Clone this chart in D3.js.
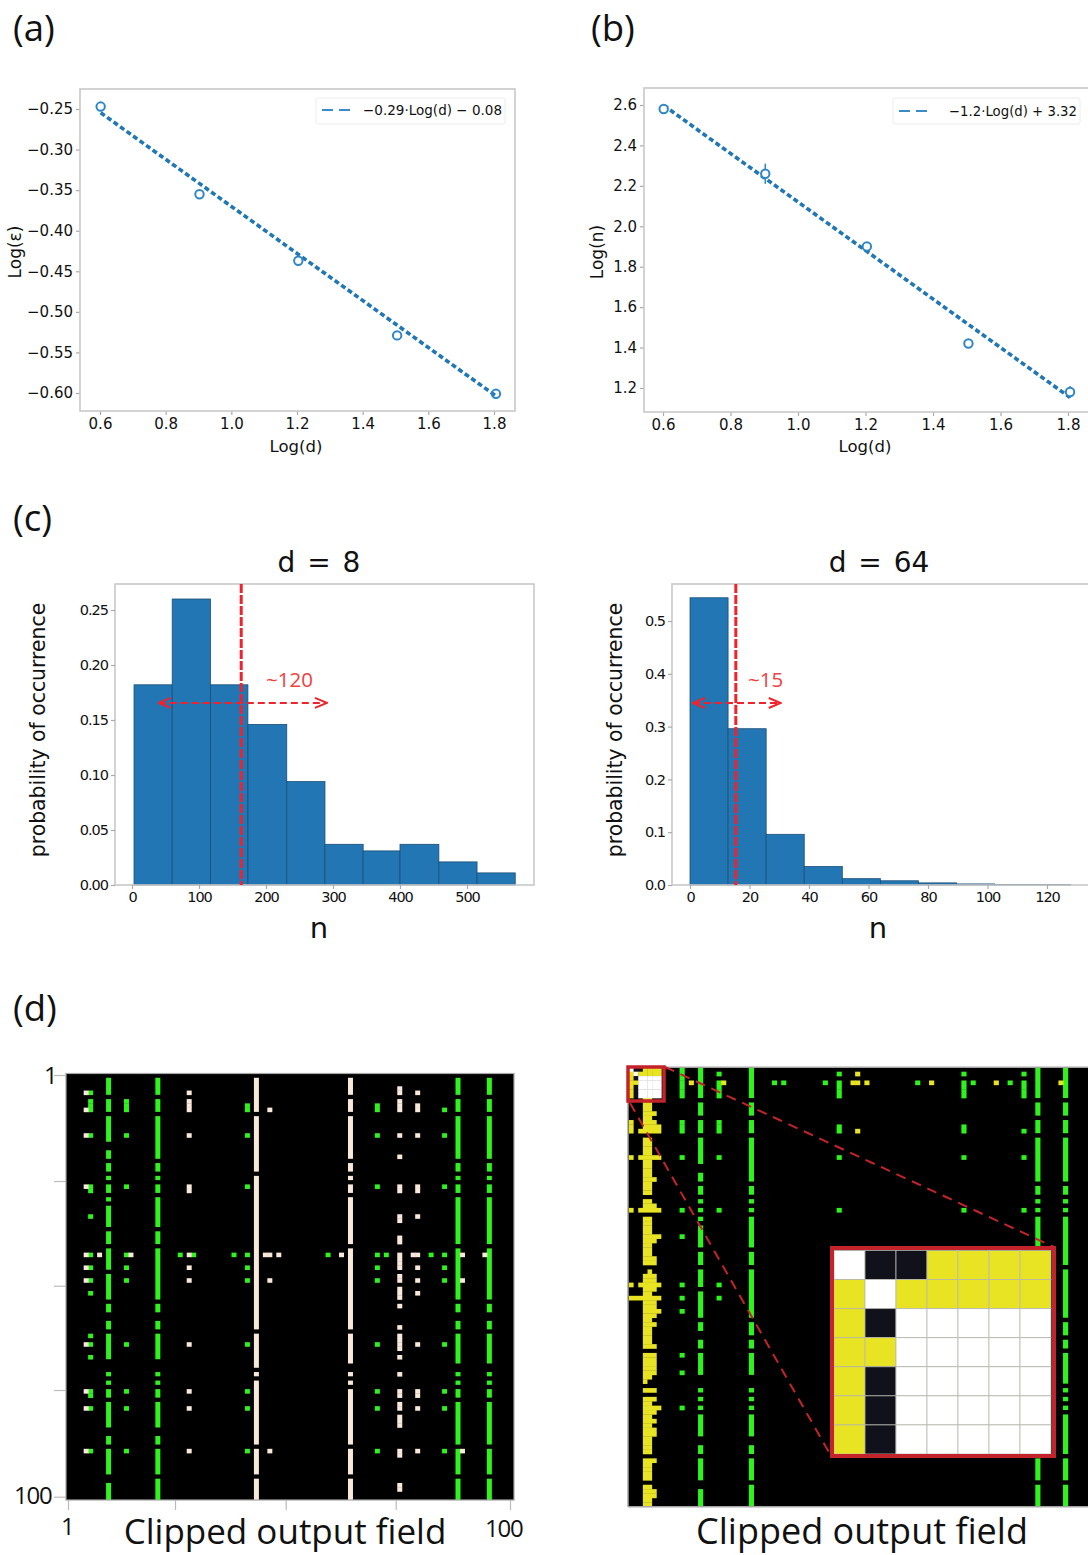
<!DOCTYPE html>
<html>
<head>
<meta charset="utf-8">
<script src="https://cdn.jsdelivr.net/npm/d3@7"></script>
<style>
  html, body { margin: 0; padding: 0; background: #fff; }
  svg { display: block; }
  text { font-family: "DejaVu Sans", sans-serif; fill: #111; }
  .panel-label, .field-label, .note { font-family: "Open Sans", sans-serif; }
</style>
</head>
<body>
<svg id="chart" width="1088" height="1555"></svg>
<script>
// Panels (a), (b): log-log fits
const logD = [0.602, 0.903, 1.204, 1.505, 1.806];
const logEps = [-0.247, -0.355, -0.437, -0.529, -0.601];
const logN = [2.58, 2.26, 1.90, 1.42, 1.18];
const logNErr = [0.015, 0.05, 0.02, 0.01, 0.03];
const fitD = [0.602, 1.806];
const fitEps = [-0.2546, -0.6037];
const fitN = [2.598, 1.153];
const ticksLogD = [0.6, 0.8, 1.0, 1.2, 1.4, 1.6, 1.8];
const ticksEps = [-0.25, -0.30, -0.35, -0.40, -0.45, -0.50, -0.55, -0.60];
const ticksN = [1.2, 1.4, 1.6, 1.8, 2.0, 2.2, 2.4, 2.6];

// Panel (c): histograms
const edges8 = [3, 60, 117, 173, 231, 288, 345, 400, 458, 515, 572];
const probs8 = [0.182, 0.26, 0.182, 0.146, 0.094, 0.037, 0.031, 0.037, 0.021, 0.011];
const edges64 = [0, 12.8, 25.6, 38.4, 51.2, 64, 76.8, 89.6, 102.4, 115.2, 128];
const probs64 = [0.544, 0.296, 0.096, 0.035, 0.012, 0.008, 0.004, 0.002, 0.001, 0.001];
const ticksN8 = [0, 100, 200, 300, 400, 500];
const ticksP8 = [0, 0.05, 0.10, 0.15, 0.20, 0.25];
const ticksN64 = [0, 20, 40, 60, 80, 100, 120];
const ticksP64 = [0, 0.1, 0.2, 0.3, 0.4, 0.5];

// Panel (d), left map: vertical stripes [col, runs of [firstRow, endRow)]
const runs9 = [[1,5],[6,9],[10,16],[18,20],[21,23],[24,25],[26,28],[29,30],[31,36],[37,40],[41,46],[47,53],[54,56],[58,60],[61,67],[70,71],[72,73],[74,76],[77,83],[85,87],[88,94],[96,100]];
const runs20 = [[1,5],[6,9],[10,20],[21,23],[24,25],[26,28],[29,36],[37,40],[41,53],[54,56],[58,60],[61,67],[70,71],[72,73],[74,76],[77,83],[85,87],[88,94],[95,100]];
const runs42 = [[1,9],[10,23],[24,60],[61,69],[70,71],[72,87],[88,94],[95,100]];
const runs63 = [[1,5],[6,9],[10,20],[21,23],[24,25],[26,28],[29,40],[41,60],[61,68],[70,71],[72,73],[74,87],[88,94],[95,100]];
const runs87 = [[1,5],[6,9],[10,20],[21,23],[24,25],[26,28],[29,40],[41,53],[54,56],[58,60],[61,68],[70,71],[72,73],[74,76],[77,87],[88,94],[95,100]];
const leftGreenStripes = [[9, runs9], [20, runs20], [87, runs87], [94, runs87]];
const leftBeigeStripes = [[42, runs42], [63, runs63]];

// single cells [col, rows]
const leftGreenCells = [
  [5, [4,6,7,8,14,26,27,33,42,45,48,51,61,63,66,74,75,78,88]],
  [13, [6,7,8,14,26,42,45,48,63,74,78,88]],
  [25, [42]], [28, [42]], [37, [42]],
  [40, [7,8,14,26,42,45,48,63,74,78,88]],
  [58, [42]],
  [69, [7,8,14,26,42,45,48,63,74,78,88]],
  [71, [42]], [81, [42]],
  [84, [8,14,26,42,45,48,63,74,78,88]]
];
const leftBeigeCells = [
  [4, [4,8,14,26,42,45,48,63,74,78,88]],
  [7, [42]], [14, [42]],
  [27, [4,6,7,8,14,26,27,42,45,48,63,74,78,88]],
  [44, [42]], [45, [8,42,48,88]], [47, [42]], [61, [42]],
  [74, [3,4,6,7,8,14,19,26,27,33,34,38,39,42,43,44,45,47,48,50,51,52,54,59,61,62,63,64,66,70,74,75,77,78,80,81,82,88,89,96,97]],
  [77, [42]],
  [78, [4,7,8,14,26,27,33,42,45,48,51,63,74,75,78,88]],
  [88, [42,48,88]], [93, [42]]
];

// Panel (d), right map
const runs15 = [[0,7],[8,11],[12,15],[16,22],[24,26],[27,29],[30,31],[32,33],[34,35],[36,41],[42,45],[46,50],[51,57],[58,60],[62,64],[65,70],[73,74],[75,76],[77,78],[79,84],[86,88],[89,94],[96,100]];
const runs26 = [[0,7],[8,11],[12,15],[16,26],[27,29],[30,31],[32,33],[34,41],[42,45],[46,57],[58,61],[62,64],[65,70],[73,74],[75,76],[77,78],[79,84],[86,88],[89,94],[95,100]];
const runs88 = [[0,7],[8,11],[12,15],[16,26],[27,29],[30,31],[32,33],[34,41],[89,94],[95,100]];
const runs94 = [[0,7],[8,11],[12,15],[16,26],[27,29],[30,31],[32,33],[34,45],[46,57],[58,61],[62,64],[65,72],[73,74],[75,76],[77,78],[79,88],[89,94],[95,100]];
const rightGreenStripes = [[15, runs15], [26, runs26], [88, runs88], [94, runs94]];
const rightGreenCells = [
  [11, [0,1,2,3,4,5,6,12,13,14,20,32,38,49,52,55,65,69,77]],
  [19, [1,3,4,5,6,12,13,14,20,32,49,52]],
  [31, [3]], [33, [3]], [42, [3]],
  [45, [1,3,4,5,6,13,14,20,32]],
  [62, [3]],
  [72, [1,3,4,5,6,13,14,20,32]],
  [74, [3]], [82, [3]],
  [85, [1,3,4,5,6,14,20,32]]
];
const rightYellowCells = [
  [13, [3]], [20, [3]], [48, [3]], [49, [1,3,14]], [51, [3]], [65, [3]], [79, [3]], [93, [3]]
];
// yellow band along the left edge [row, firstCol, lastCol]
const rightBand = [
  [7,3,4],[8,3,4],[9,3,4],[10,3,5],[11,3,4],[12,0,0],[12,3,5],[13,0,0],[13,3,6],[14,0,0],[14,2,6],
  [16,3,4],[17,3,4],[18,3,4],[19,3,4],[20,0,0],[20,2,6],[21,3,4],[22,3,4],[23,3,4],[24,3,4],[25,3,5],
  [26,3,4],[27,3,4],[28,3,4],[30,3,4],[31,3,5],[32,0,0],[32,2,6],[34,3,4],[35,3,4],[36,3,4],[37,3,4],
  [38,3,6],[39,3,5],[40,3,4],[41,3,4],[42,3,4],[43,3,5],[44,3,5],[46,4,4],[47,3,5],[48,3,5],[49,0,0],
  [49,2,6],[50,3,5],[51,3,4],[52,0,6],[53,3,5],[54,3,5],[55,3,6],[56,3,5],[57,3,4],[58,3,5],[59,3,4],
  [60,3,4],[61,3,4],[62,3,4],[63,3,5],[65,3,5],[66,3,5],[67,3,5],[68,3,5],[69,3,5],[70,3,4],[71,3,3],
  [73,3,5],[75,3,5],[76,3,4],[77,3,6],[78,3,5],[79,3,4],[80,3,5],[81,3,4],[82,3,5],[83,3,5],[84,3,4],
  [85,3,4],[86,3,4],[87,3,4],[89,3,5],[90,3,4],[91,3,4],[92,3,4],[93,3,4],[95,3,4],[96,3,5],[97,3,5],
  [98,3,4],[99,3,4]
];
// top-left 7x7 block: w white, k black, y yellow
const insetRows = ["wkkyyyy", "ywyyyyy", "ykwwwww", "yywwwww", "ykwwwww", "ykwwwww", "ykwwwww"];
const fieldTicks = [0, 25, 50, 75, 100];

const BLUE = "#1f77b4", RED = "#f0232d", DARK_RED = "#c4232c";
const GREEN = "#2df51c", BEIGE = "#f9e9da", YELLOW = "#e8e423", INK = "#10111b";
const stateColor = { w: "#fff", k: INK, y: YELLOW };

// cells look a bit wider than their pitch in the source, and rows must not show seams
const CELL_W = 0.5, CELL_H = 0.3;

const svg = d3.select("#chart");

// Arrow heads for the width annotation
svg.append("defs").append("marker")
    .attr("id", "arrow")
    .attr("viewBox", "0 0 14 12")
    .attr("refX", 13).attr("refY", 6)
    .attr("markerWidth", 14).attr("markerHeight", 12)
    .attr("markerUnits", "userSpaceOnUse")
    .attr("orient", "auto-start-reverse")
    .append("path")
    .attr("d", "M1,1 L13,6 L1,11")
    .attr("fill", "none")
    .attr("stroke", RED)
    .attr("stroke-width", 2);

function panelLabel(txt, x, y) {
    svg.append("text").attr("class", "panel-label")
        .attr("x", x).attr("y", y)
        .attr("font-size", 36.5)
        .text(txt);
}

function frame(x0, y0, x1, y1, stroke = "#c8c8c8", w = 1.6) {
    svg.append("rect")
        .attr("x", x0).attr("y", y0)
        .attr("width", x1 - x0).attr("height", y1 - y0)
        .attr("fill", "none")
        .attr("stroke", stroke)
        .attr("stroke-width", w);
}

function axes(xScale, yScale, box, xTicks, yTicks, xFmt, yFmt, size, spacing) {
    const xAxis = svg.append("g")
        .attr("transform", `translate(0,${box.bottom})`)
        .call(d3.axisBottom(xScale).tickValues(xTicks).tickFormat(xFmt).tickSize(4).tickPadding(3));
    const yAxis = svg.append("g")
        .attr("transform", `translate(${box.left},0)`)
        .call(d3.axisLeft(yScale).tickValues(yTicks).tickFormat(yFmt).tickSize(4).tickPadding(3));
    [xAxis, yAxis].forEach(a => {
        a.select(".domain").remove();
        a.selectAll("line").attr("stroke", "#aaa").attr("stroke-width", 1.2);
        a.selectAll("text")
            .attr("font-family", "'DejaVu Sans', sans-serif")
            .attr("font-size", size)
            .attr("letter-spacing", spacing)
            .attr("fill", "#111");
    });
}

function fitPanel(cfg) {
    const x = d3.scaleLinear().domain([0.6, 1.8]).range(cfg.xRange);
    const y = d3.scaleLinear().domain(cfg.yDomain).range(cfg.yRange);

    axes(x, y, cfg.box, ticksLogD, cfg.yTicks, d3.format(".1f"), d3.format(cfg.yFormat), 15, 0);

    const line = d3.line().x(d => x(d[0])).y(d => y(d[1]));
    svg.append("path")
        .datum(d3.zip(fitD, cfg.fit))
        .attr("d", line)
        .attr("fill", "none")
        .attr("stroke", BLUE)
        .attr("stroke-width", 3.6)
        .attr("stroke-dasharray", "5,3");

    if (cfg.err) {
        svg.selectAll(null).data(d3.zip(logD, cfg.values, cfg.err)).enter().append("line")
            .attr("x1", d => x(d[0])).attr("x2", d => x(d[0]))
            .attr("y1", d => y(d[1] - d[2])).attr("y2", d => y(d[1] + d[2]))
            .attr("stroke", "#2f86c4")
            .attr("stroke-width", 1.5);
    }

    svg.selectAll(null).data(d3.zip(logD, cfg.values)).enter().append("circle")
        .attr("cx", d => x(d[0])).attr("cy", d => y(d[1]))
        .attr("r", 4.2)
        .attr("fill", cfg.err ? "#fff" : "none")
        .attr("stroke", "#2f86c4")
        .attr("stroke-width", 2);

    frame(cfg.box.left, cfg.box.top, cfg.box.right, cfg.box.bottom);

    // Legend
    const lg = cfg.legend;
    svg.append("rect")
        .attr("x", lg.x0).attr("y", lg.y0)
        .attr("width", lg.x1 - lg.x0).attr("height", lg.y1 - lg.y0)
        .attr("rx", 2)
        .attr("fill", "#fff")
        .attr("stroke", "#ececec");
    svg.append("line")
        .attr("x1", lg.lineX0).attr("x2", lg.lineX1)
        .attr("y1", lg.lineY).attr("y2", lg.lineY)
        .attr("stroke", "#3a8cc8")
        .attr("stroke-width", 2)
        .attr("stroke-dasharray", "11,6");
    svg.append("text")
        .attr("x", lg.x1 - 3).attr("y", lg.lineY + 5)
        .attr("text-anchor", "end")
        .attr("font-size", 14)
        .attr("textLength", lg.textLen)
        .attr("lengthAdjust", "spacingAndGlyphs")
        .text(lg.label);

    svg.append("text")
        .attr("x", cfg.xLabelX).attr("y", 452)
        .attr("text-anchor", "middle")
        .attr("font-size", 16.5)
        .text("Log(d)");
    svg.append("text")
        .attr("transform", `translate(${cfg.yLabelX},252) rotate(-90)`)
        .attr("text-anchor", "middle")
        .attr("font-size", 17)
        .text(cfg.yLabel);
}

function histPanel(cfg) {
    const x = d3.scaleLinear().domain(cfg.xDomain).range(cfg.xRange);
    const y = d3.scaleLinear().domain(cfg.yDomain).range(cfg.yRange);

    svg.selectAll(null).data(cfg.probs).enter().append("rect")
        .attr("x", (d, i) => x(cfg.edges[i]))
        .attr("width", (d, i) => x(cfg.edges[i + 1]) - x(cfg.edges[i]))
        .attr("y", d => y(d))
        .attr("height", d => y(0) - y(d))
        .attr("fill", "#2276b3")
        .attr("stroke", "#1c4f76")
        .attr("stroke-width", 0.8);

    frame(cfg.box.left, cfg.box.top, cfg.box.right, cfg.box.bottom);
    axes(x, y, cfg.box, cfg.xTicks, cfg.yTicks, d3.format("d"), d3.format(cfg.yFormat), 14.5, -1);

    // median line
    svg.append("line")
        .attr("x1", x(cfg.median)).attr("x2", x(cfg.median))
        .attr("y1", cfg.box.top).attr("y2", cfg.box.bottom)
        .attr("stroke", RED)
        .attr("stroke-width", 3)
        .attr("stroke-dasharray", "9,2");

    svg.append("line")
        .attr("x1", x(cfg.arrow[0])).attr("x2", x(cfg.arrow[1]))
        .attr("y1", y(cfg.arrowAt)).attr("y2", y(cfg.arrowAt))
        .attr("stroke", RED)
        .attr("stroke-width", 2)
        .attr("stroke-dasharray", "7,4")
        .attr("marker-start", "url(#arrow)")
        .attr("marker-end", "url(#arrow)");

    svg.append("text").attr("class", "note")
        .attr("x", cfg.noteX).attr("y", 687)
        .attr("font-size", 20.5)
        .style("fill", "#f0403f")
        .text(cfg.note);

    svg.append("text")
        .attr("x", cfg.titleX).attr("y", 572)
        .attr("text-anchor", "middle")
        .attr("font-size", 28)
        .style("word-spacing", "3px")
        .text(cfg.title);
    svg.append("text")
        .attr("x", cfg.nX).attr("y", 938)
        .attr("text-anchor", "middle")
        .attr("font-size", 29)
        .text("n");
    svg.append("text")
        .attr("transform", `translate(${cfg.yLabelX},730) rotate(-90)`)
        .attr("text-anchor", "middle")
        .attr("font-size", 20.4)
        .text("probability of occurrence");
}

function drawStripes(g, x, y, stripes, color) {
    stripes.forEach(([col, runs]) => {
        g.selectAll(null).data(runs).enter().append("rect")
            .attr("x", x(col) - CELL_W / 2).attr("width", x(col + 1) - x(col) + CELL_W)
            .attr("y", d => y(d[0])).attr("height", d => y(d[1]) - y(d[0]))
            .attr("fill", color);
    });
}

function drawCells(g, x, y, cells, color) {
    cells.forEach(([col, rows]) => {
        g.selectAll(null).data(rows).enter().append("rect")
            .attr("x", x(col) - CELL_W / 2).attr("width", x(col + 1) - x(col) + CELL_W)
            .attr("y", d => y(d)).attr("height", d => y(d + 1) - y(d) + CELL_H)
            .attr("fill", color);
    });
}

// (a)
panelLabel("(a)", 13, 41);
fitPanel({
    box: { left: 80, top: 89, right: 515, bottom: 411 },
    xRange: [100, 494], yDomain: [-0.25, -0.60], yRange: [109, 393],
    yTicks: ticksEps, yFormat: ".2f", values: logEps, fit: fitEps,
    legend: { x0: 316, x1: 505, y0: 98, y1: 124, lineX0: 322, lineX1: 350, lineY: 110, textLen: 139, label: "−0.29·Log(d) − 0.08" },
    xLabelX: 296, yLabelX: 21, yLabel: "Log(ε)"
});

// (b)
panelLabel("(b)", 591, 41);
fitPanel({
    box: { left: 644, top: 88, right: 1094, bottom: 412 },
    xRange: [663, 1068], yDomain: [2.6, 1.2], yRange: [105, 388],
    yTicks: ticksN, yFormat: ".1f", values: logN, fit: fitN, err: logNErr,
    legend: { x0: 893, x1: 1080, y0: 98, y1: 124, lineX0: 899, lineX1: 927, lineY: 111, textLen: 128, label: "−1.2·Log(d) + 3.32" },
    xLabelX: 865, yLabelX: 603, yLabel: "Log(n)"
});

// (c)
panelLabel("(c)", 13, 531);
histPanel({
    box: { left: 115, top: 584, right: 534, bottom: 885 },
    xDomain: [0, 500], xRange: [132, 467], yDomain: [0, 0.25], yRange: [885, 610],
    edges: edges8, probs: probs8, xTicks: ticksN8, yTicks: ticksP8, yFormat: ".2f",
    median: 163, arrow: [40, 291], arrowAt: 0.1655, note: "~120", noteX: 266,
    title: "d = 8", titleX: 319, nX: 319, yLabelX: 45
});
histPanel({
    box: { left: 672, top: 584, right: 1094, bottom: 885 },
    xDomain: [0, 120], xRange: [690, 1047], yDomain: [0, 0.5], yRange: [885, 621],
    edges: edges64, probs: probs64, xTicks: ticksN64, yTicks: ticksP64, yFormat: ".1f",
    median: 15.4, arrow: [1, 30.5], arrowAt: 0.3447, note: "~15", noteX: 748,
    title: "d = 64", titleX: 879, nX: 878, yLabelX: 622
});

// (d)
panelLabel("(d)", 13, 1021);

// left map
const leftX = d3.scaleLinear().domain([0, 100]).range([66, 514]);
const leftY = d3.scaleLinear().domain([0, 100]).range([1073.5, 1500]);
const leftTickX = d3.scaleLinear().domain(fieldTicks).range([68, 175, 285.7, 395.7, 510]);
const leftTickY = d3.scaleLinear().domain(fieldTicks).range([1075, 1181, 1285.7, 1390, 1496.7]);

svg.append("rect")
    .attr("x", leftX(0)).attr("y", leftY(0))
    .attr("width", leftX(100) - leftX(0)).attr("height", leftY(100) - leftY(0))
    .attr("fill", "#000");
const leftG = svg.append("g");
drawStripes(leftG, leftX, leftY, leftGreenStripes, GREEN);
drawStripes(leftG, leftX, leftY, leftBeigeStripes, BEIGE);
drawCells(leftG, leftX, leftY, leftGreenCells, GREEN);
drawCells(leftG, leftX, leftY, leftBeigeCells, BEIGE);
frame(leftX(0), leftY(0), leftX(100), leftY(100), "#a5a5a5", 1.2);

svg.append("g")
    .attr("transform", `translate(0,${leftY(100)})`)
    .call(d3.axisBottom(leftTickX).tickValues(fieldTicks).tickFormat("").tickSize(10))
    .call(g => g.select(".domain").remove())
    .selectAll("line").attr("stroke", "#bbb").attr("stroke-width", 1.2);
svg.append("g")
    .attr("transform", `translate(${leftX(0)},0)`)
    .call(d3.axisLeft(leftTickY).tickValues(fieldTicks).tickFormat("").tickSize(12))
    .call(g => g.select(".domain").remove())
    .selectAll("line").attr("stroke", "#bbb").attr("stroke-width", 1.2);

const fieldLabels = [
    { t: "1", x: 44, y: 1084, s: 24 },
    { t: "100", x: 14, y: 1504, s: 24 },
    { t: "1", x: 61, y: 1535, s: 24 },
    { t: "100", x: 485, y: 1537, s: 24 }
];
svg.selectAll(null).data(fieldLabels).enter().append("text")
    .attr("class", "field-label")
    .attr("x", d => d.x).attr("y", d => d.y)
    .attr("font-size", d => d.s)
    .attr("letter-spacing", -1.2)
    .text(d => d.t);

// right map
const rightX = d3.scaleLinear().domain([0, 100]).range([629, 1091]);
const rightY = d3.scaleLinear().domain([0, 100]).range([1067.3, 1506.7]);

svg.append("rect")
    .attr("x", 628).attr("y", rightY(0))
    .attr("width", 470).attr("height", rightY(100) - rightY(0))
    .attr("fill", "#000");
const rightG = svg.append("g");
drawStripes(rightG, rightX, rightY, rightGreenStripes, GREEN);
drawCells(rightG, rightX, rightY, rightGreenCells, GREEN);
drawCells(rightG, rightX, rightY, rightYellowCells, YELLOW);
rightG.selectAll(null).data(rightBand).enter().append("rect")
    .attr("x", d => rightX(d[1])).attr("width", d => rightX(d[2] + 1) - rightX(d[1]))
    .attr("y", d => rightY(d[0])).attr("height", d => rightY(d[0] + 1) - rightY(d[0]) + CELL_H)
    .attr("fill", YELLOW);

const insetCells = insetRows.flatMap((r, i) => r.split("").map((s, j) => ({ row: i, col: j, s })));

rightG.selectAll(null).data(insetCells).enter().append("rect")
    .attr("x", d => rightX(d.col)).attr("width", d => rightX(d.col + 1) - rightX(d.col) + CELL_H)
    .attr("y", d => rightY(d.row)).attr("height", d => rightY(d.row + 1) - rightY(d.row) + CELL_H)
    .attr("fill", d => stateColor[d.s]);

svg.append("line").attr("x1", 628).attr("x2", 628).attr("y1", rightY(0)).attr("y2", rightY(100))
    .attr("stroke", "#a5a5a5").attr("stroke-width", 1.5);
svg.append("line").attr("x1", 628).attr("x2", 1088).attr("y1", rightY(0)).attr("y2", rightY(0))
    .attr("stroke", "#a5a5a5").attr("stroke-width", 1.5);
svg.append("line").attr("x1", 628).attr("x2", 1088).attr("y1", rightY(100)).attr("y2", rightY(100))
    .attr("stroke", "#a5a5a5").attr("stroke-width", 1.5);

// zoom guide lines and inset
const guides = [[665, 1067, 1054, 1247], [630, 1103, 830, 1454]];
svg.selectAll(null).data(guides).enter().append("line")
    .attr("x1", d => d[0]).attr("y1", d => d[1])
    .attr("x2", d => d[2]).attr("y2", d => d[3])
    .attr("stroke", DARK_RED)
    .attr("stroke-width", 2)
    .attr("stroke-dasharray", "10,7");

svg.append("rect")
    .attr("x", 628).attr("y", 1067)
    .attr("width", 36).attr("height", 34)
    .attr("fill", "none")
    .attr("stroke", DARK_RED)
    .attr("stroke-width", 3.5);

const insetX = d3.scaleLinear().domain([0, 7]).range([834, 1051]);
const insetY = d3.scaleLinear().domain([0, 7]).range([1250.5, 1454]);
svg.selectAll(null).data(insetCells).enter().append("rect")
    .attr("x", d => insetX(d.col)).attr("width", insetX(1) - insetX(0))
    .attr("y", d => insetY(d.row)).attr("height", insetY(1) - insetY(0))
    .attr("fill", d => stateColor[d.s])
    .attr("stroke", "#b9b9b0")
    .attr("stroke-width", 0.8);
svg.append("rect")
    .attr("x", 832).attr("y", 1248)
    .attr("width", 222).attr("height", 208)
    .attr("fill", "none")
    .attr("stroke", DARK_RED)
    .attr("stroke-width", 4);

svg.selectAll(null).data([[285, 35], [862, 36]]).enter().append("text")
    .attr("class", "field-label")
    .attr("x", d => d[0]).attr("y", 1544)
    .attr("text-anchor", "middle")
    .attr("font-size", d => d[1])
    .text("Clipped output field");
</script>
</body>
</html>
